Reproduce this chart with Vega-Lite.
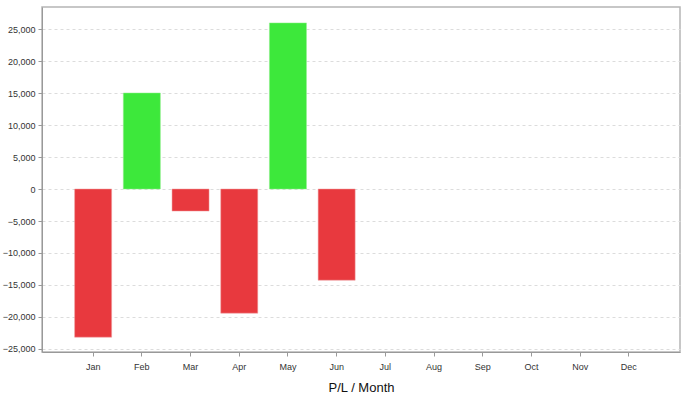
{
  "$schema": "https://vega.github.io/schema/vega-lite/v6.json",
  "width": 638,
  "height": 345,
  "autosize": {"type": "none"},
  "padding": {"left": 42, "top": 7, "right": 8, "bottom": 46},
  "background": "white",
  "config": {
    "view": {"stroke": "#b5b5b5", "strokeWidth": 1.5},
    "font": "Liberation Sans"
  },
  "data": {
    "values": [
      {"month": "Jan", "pl": -23150},
      {"month": "Feb", "pl": 15000},
      {"month": "Mar", "pl": -3450},
      {"month": "Apr", "pl": -19400},
      {"month": "May", "pl": 25950},
      {"month": "Jun", "pl": -14250}
    ]
  },
  "mark": {"type": "bar", "strokeWidth": 1, "strokeOpacity": 0.5},
  "encoding": {
    "x": {
      "field": "month",
      "type": "nominal",
      "sort": null,
      "scale": {
        "domain": ["Jan", "Feb", "Mar", "Apr", "May", "Jun", "Jul", "Aug", "Sep", "Oct", "Nov", "Dec"],
        "paddingInner": 0.24,
        "paddingOuter": 0.67
      },
      "axis": {
        "title": "P/L / Month",
        "titleFont": "Liberation Sans",
        "titleFontSize": 13,
        "titleFontWeight": "normal",
        "titleColor": "#111",
        "titlePadding": 10,
        "labelAngle": 0,
        "labelFontSize": 9,
        "labelColor": "#333",
        "labelPadding": 6,
        "tickSize": 4,
        "tickColor": "#999",
        "domainColor": "#999",
        "grid": false
      }
    },
    "y": {
      "field": "pl",
      "type": "quantitative",
      "scale": {"domain": [-25470, 28440], "nice": false, "zero": false},
      "axis": {
        "title": null,
        "values": [-25000, -20000, -15000, -10000, -5000, 0, 5000, 10000, 15000, 20000, 25000],
        "format": ",d",
        "labelFontSize": 9,
        "labelColor": "#333",
        "labelPadding": 3,
        "tickSize": 4,
        "tickColor": "#999",
        "domainColor": "#999",
        "grid": true,
        "gridColor": "#dcdcdc",
        "gridDash": [3, 3]
      }
    },
    "color": {
      "condition": {"test": "datum.pl >= 0", "value": "#3de83b"},
      "value": "#e8393e"
    },
    "stroke": {
      "condition": {"test": "datum.pl >= 0", "value": "#8df08a"},
      "value": "#f2a0a2"
    }
  }
}
